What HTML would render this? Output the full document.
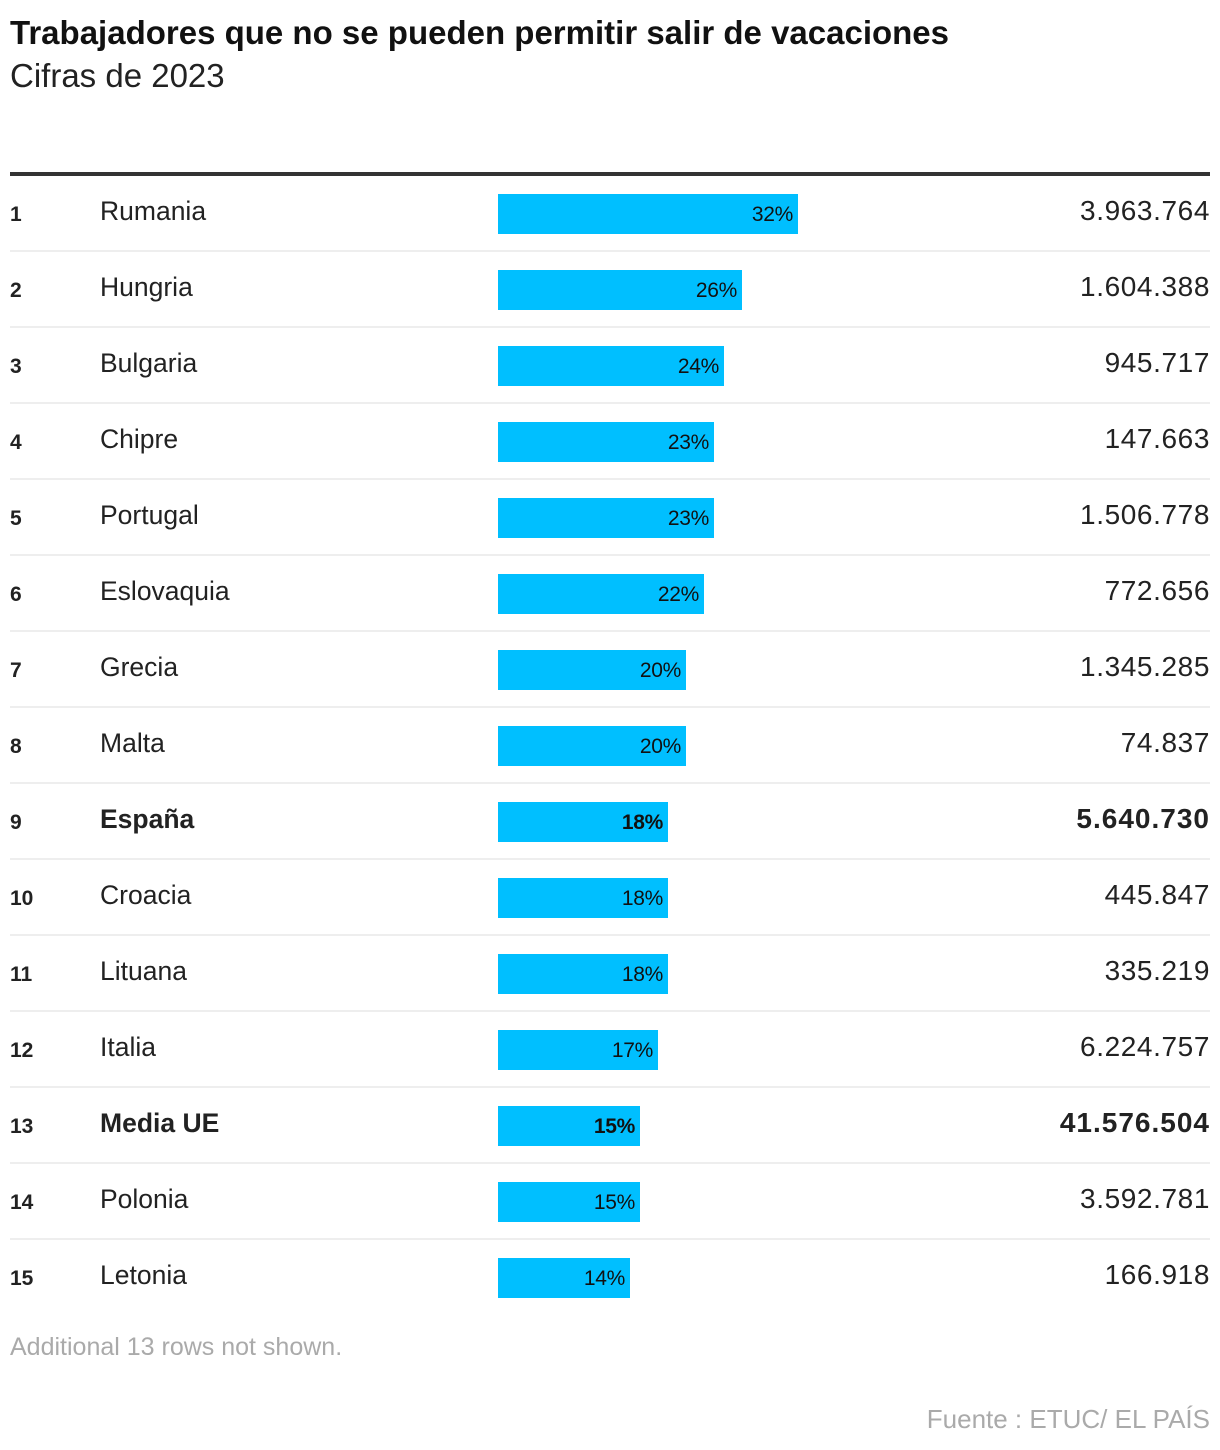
<!DOCTYPE html>
<html><head><meta charset="utf-8"><style>
body{margin:0;width:1220px;height:1450px;background:#fff;font-family:"Liberation Sans",sans-serif;color:#222;position:relative;overflow:hidden}
.t{position:absolute;left:10px;top:14px;font-size:33px;font-weight:bold;color:#111;letter-spacing:0;white-space:nowrap}
.s{position:absolute;left:10px;top:57px;font-size:33px;color:#222}
.top{position:absolute;left:10px;width:1200px;top:172px;height:4px;background:#333}
.r{position:absolute;left:10px;width:1200px;height:74px;border-bottom:2px solid #eee}
.r.last{border-bottom:none}
.n{position:absolute;left:0;top:27px;font-size:21px;font-weight:bold}
.c{position:absolute;left:90px;top:20px;font-size:26.5px}
.b{position:absolute;left:488px;top:18px;height:40px;background:#00bfff;text-align:right;box-sizing:border-box;padding-right:5px;font-size:21px;line-height:42px;letter-spacing:-0.3px;color:#111}
.v{position:absolute;right:0;top:19px;font-size:28px;letter-spacing:0.6px}
.bold .c,.bold .v,.bold .b{font-weight:bold}
.bold .v{letter-spacing:1px}
.f1{position:absolute;left:10px;top:1333px;font-size:25px;color:#aaa}
.f2{position:absolute;right:10px;top:1404px;font-size:26px;color:#aaa}
</style></head><body>
<div class="t">Trabajadores que no se pueden permitir salir de vacaciones</div>
<div class="s">Cifras de 2023</div>
<div class="top"></div>
<div class="r" style="top:176px"><span class="n">1</span><span class="c">Rumania</span><div class="b" style="width:300px">32%</div><span class="v">3.963.764</span></div>
<div class="r" style="top:252px"><span class="n">2</span><span class="c">Hungria</span><div class="b" style="width:244px">26%</div><span class="v">1.604.388</span></div>
<div class="r" style="top:328px"><span class="n">3</span><span class="c">Bulgaria</span><div class="b" style="width:226px">24%</div><span class="v">945.717</span></div>
<div class="r" style="top:404px"><span class="n">4</span><span class="c">Chipre</span><div class="b" style="width:216px">23%</div><span class="v">147.663</span></div>
<div class="r" style="top:480px"><span class="n">5</span><span class="c">Portugal</span><div class="b" style="width:216px">23%</div><span class="v">1.506.778</span></div>
<div class="r" style="top:556px"><span class="n">6</span><span class="c">Eslovaquia</span><div class="b" style="width:206px">22%</div><span class="v">772.656</span></div>
<div class="r" style="top:632px"><span class="n">7</span><span class="c">Grecia</span><div class="b" style="width:188px">20%</div><span class="v">1.345.285</span></div>
<div class="r" style="top:708px"><span class="n">8</span><span class="c">Malta</span><div class="b" style="width:188px">20%</div><span class="v">74.837</span></div>
<div class="r bold" style="top:784px"><span class="n">9</span><span class="c">España</span><div class="b" style="width:170px">18%</div><span class="v">5.640.730</span></div>
<div class="r" style="top:860px"><span class="n">10</span><span class="c">Croacia</span><div class="b" style="width:170px">18%</div><span class="v">445.847</span></div>
<div class="r" style="top:936px"><span class="n">11</span><span class="c">Lituana</span><div class="b" style="width:170px">18%</div><span class="v">335.219</span></div>
<div class="r" style="top:1012px"><span class="n">12</span><span class="c">Italia</span><div class="b" style="width:160px">17%</div><span class="v">6.224.757</span></div>
<div class="r bold" style="top:1088px"><span class="n">13</span><span class="c">Media UE</span><div class="b" style="width:142px">15%</div><span class="v">41.576.504</span></div>
<div class="r" style="top:1164px"><span class="n">14</span><span class="c">Polonia</span><div class="b" style="width:142px">15%</div><span class="v">3.592.781</span></div>
<div class="r last" style="top:1240px"><span class="n">15</span><span class="c">Letonia</span><div class="b" style="width:132px">14%</div><span class="v">166.918</span></div>
<div class="f1">Additional 13 rows not shown.</div>
<div class="f2">Fuente : ETUC/ EL PAÍS</div>
</body></html>
